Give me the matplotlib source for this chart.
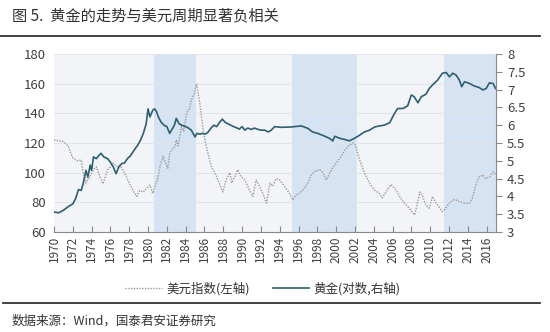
import matplotlib
matplotlib.use("Agg")
import matplotlib.pyplot as plt
from matplotlib.lines import Line2D

plt.rcParams['font.family'] = ['Noto Sans CJK SC', 'DejaVu Sans']

# US dollar index (left axis)
usd_year = [1970.0, 1970.5, 1971.0, 1971.5, 1971.8, 1972.0, 1972.5, 1972.9, 1973.1, 1973.4,
            1973.8, 1974.2, 1974.5, 1974.9, 1975.2, 1975.4, 1975.7, 1976.0, 1976.3, 1976.7,
            1977.0, 1977.4, 1977.7, 1978.0, 1978.4, 1978.8, 1979.1, 1979.5, 1979.8, 1980.2,
            1980.5, 1980.8, 1981.0, 1981.3, 1981.6, 1981.9, 1982.1, 1982.3, 1982.6, 1982.85,
            1983.0, 1983.2, 1983.55, 1983.8, 1984.1, 1984.4, 1984.6, 1984.9, 1985.15, 1985.5,
            1985.85, 1986.2, 1986.55, 1986.8, 1987.1, 1987.45, 1987.95, 1988.3, 1988.7, 1988.9,
            1989.2, 1989.55, 1989.9, 1990.2, 1990.45, 1990.8, 1991.15, 1991.5, 1991.85, 1992.2,
            1992.6, 1992.95, 1993.25, 1993.65, 1994.0, 1994.5, 1995.05, 1995.4, 1995.75, 1996.1,
            1996.45, 1997.0, 1997.35, 1997.7, 1998.25, 1998.6, 1998.95, 1999.2, 1999.5, 2000.0,
            2000.55, 2000.9, 2001.4, 2001.8, 2002.05, 2002.5, 2003.0, 2003.55, 2004.1, 2004.6,
            2004.9, 2005.3, 2005.85, 2006.4, 2006.75, 2007.25, 2007.8, 2008.15, 2008.35, 2008.65,
            2008.9, 2009.2, 2009.55, 2009.9, 2010.25, 2010.6, 2010.95, 2011.3, 2011.5, 2012.05,
            2012.6, 2013.1, 2013.65, 2014.2, 2014.5, 2014.9, 2015.2, 2015.6, 2015.9, 2016.3,
            2016.7, 2017.0]
usd_val = [122, 121.5, 121, 118, 113, 110, 108, 108.5, 100, 93,
           97, 102, 104, 97, 92.5, 96, 102, 104, 106.5, 104,
           105, 101, 97, 93, 88, 84, 88, 87, 89, 91.7,
           86, 92, 95, 105, 111, 106, 103, 113, 116, 117.5,
           122, 118, 131, 128, 140, 143, 149, 153, 160, 147,
           129, 117.5, 108.5, 103, 100, 95, 87, 95, 100, 93,
           97, 102, 97, 96, 93, 88, 84, 95, 91, 86,
           79.5, 93, 91, 96, 95, 91, 86, 81.6, 85, 86,
           88, 93, 98.5, 100.7, 102, 100, 95, 98, 102, 106.5,
           111, 115, 118.6, 120, 118.6, 108.5, 100, 93, 88, 86,
           83, 87, 92, 88, 84, 79.5, 76, 72.7, 71.5, 79.5,
           87, 84, 78, 76, 84, 79.5, 77, 73.7, 75, 79.5,
           82, 80.5, 79.5, 79.5, 83, 93, 97, 98.5, 96, 97,
           100.7, 98.5]

# gold price, natural log (right axis)
gold_year = [1970.0, 1970.5, 1971.0, 1971.5, 1972.0, 1972.3, 1972.6, 1972.9, 1973.1, 1973.4,
             1973.6, 1973.85, 1974.0, 1974.2, 1974.5, 1974.8, 1975.0, 1975.3, 1975.7, 1976.0,
             1976.3, 1976.6, 1976.9, 1977.2, 1977.5, 1977.8, 1978.1, 1978.3, 1978.6, 1978.9,
             1979.2, 1979.5, 1979.8, 1980.0, 1980.2, 1980.5, 1980.7, 1980.9, 1981.1, 1981.4,
             1981.7, 1982.0, 1982.3, 1982.5, 1982.8, 1983.0, 1983.3, 1983.6, 1984.0, 1984.3,
             1984.6, 1985.0, 1985.2, 1985.5, 1985.8, 1986.1, 1986.4, 1986.7, 1987.0, 1987.3,
             1987.6, 1987.9, 1988.2, 1988.5, 1988.8, 1989.1, 1989.4, 1989.7, 1990.0, 1990.3,
             1990.6, 1991.0, 1991.3, 1991.6, 1992.0, 1992.4, 1992.8, 1993.1, 1993.45, 1994.2,
             1995.2, 1996.3, 1997.0, 1997.5, 1998.05, 1998.8, 1999.3, 1999.65, 1999.85, 2000.4,
             2000.9, 2001.4, 2001.95, 2002.5, 2003.0, 2003.55, 2004.1, 2004.6, 2005.1, 2005.7,
             2006.2, 2006.55, 2007.1, 2007.6, 2008.0, 2008.3, 2008.7, 2009.05, 2009.55, 2009.9,
             2010.25, 2010.8, 2011.3, 2011.7, 2012.05, 2012.4, 2012.75, 2013.1, 2013.35, 2013.65,
             2014.2, 2014.7, 2015.2, 2015.6, 2015.95, 2016.3, 2016.7, 2016.95]
gold_log = [3.56, 3.54, 3.61, 3.71, 3.79, 3.94, 4.19, 4.17, 4.36, 4.73,
            4.54, 4.88, 4.73, 5.11, 5.06, 5.16, 5.21, 5.11, 5.06, 4.96,
            4.83, 4.64, 4.83, 4.92, 4.94, 5.06, 5.13, 5.21, 5.33, 5.44,
            5.58, 5.77, 6.04, 6.46, 6.23, 6.42, 6.46, 6.38, 6.23, 6.08,
            6.00, 5.96, 5.77, 5.86, 6.00, 6.19, 6.04, 6.00, 5.96, 5.92,
            5.86, 5.67, 5.77, 5.75, 5.77, 5.75, 5.81, 5.92, 6.00, 5.96,
            6.08, 6.17, 6.08, 6.04, 6.00, 5.96, 5.93, 5.89, 5.96, 5.86,
            5.92, 5.88, 5.92, 5.89, 5.86, 5.86, 5.81, 5.86, 5.96, 5.94,
            5.95, 5.98, 5.91, 5.81, 5.77, 5.69, 5.63, 5.56, 5.69, 5.63,
            5.60, 5.56, 5.63, 5.72, 5.81, 5.86, 5.95, 5.98, 6.00, 6.07,
            6.33, 6.47, 6.47, 6.54, 6.85, 6.80, 6.63, 6.80, 6.87, 7.03,
            7.13, 7.27, 7.46, 7.48, 7.36, 7.46, 7.41, 7.27, 7.08, 7.22,
            7.17, 7.10, 7.06, 6.99, 7.03, 7.19, 7.17, 7.03]

# periods of dollar strength
spans = [(1980.6, 1985.1), (1995.3, 2002.2), (2011.5, 2017.0)]
xticks = list(range(1970, 2017, 2))

fig = plt.figure(figsize=(5.5, 3.32), dpi=100)
ax = fig.add_axes([54 / 550, 1 - 232 / 332, 442 / 550, 178 / 332])
ax.set_facecolor('#f3f4f7')
for a, b in spans:
    ax.axvspan(a, b, color='#d6e3f3', lw=0, zorder=0)
ax.set_xlim(1970, 2017)
ax.set_ylim(60, 180)
ax.set_yticks(range(60, 181, 20))
ax.yaxis.grid(True, color='#e1e3e8', lw=0.7)
ax.set_axisbelow(True)
ax.set_xticks(xticks)
ax.set_xticklabels([str(y) for y in xticks], rotation=90, fontsize=8.5, color='#404040')
ax.tick_params(axis='x', direction='in', length=4, color='#888888', pad=3)
ax.tick_params(axis='y', length=0, labelsize=9.5, colors='#404040', pad=6)
for s in ['top', 'left', 'right']:
    ax.spines[s].set_visible(False)
ax.spines['bottom'].set_color('#888888')
ax.plot(usd_year, usd_val, color='#9a9a9a', lw=1.0, ls=(0, (1, 1)))

ax2 = ax.twinx()
ax2.set_ylim(3, 8)
ax2.set_yticks([3, 3.5, 4, 4.5, 5, 5.5, 6, 6.5, 7, 7.5, 8])
ax2.set_yticklabels(['3', '3.5', '4', '4.5', '5', '5.5', '6', '6.5', '7', '7.5', '8'])
ax2.tick_params(axis='y', direction='out', length=4, color='#888888', labelsize=9.5,
                labelcolor='#404040', pad=4)
for s in ['top', 'left', 'bottom']:
    ax2.spines[s].set_visible(False)
ax2.spines['right'].set_color('#888888')
ax2.plot(gold_year, gold_log, color='#2e5e72', lw=1.2)

fig.text(0.022, 1 - 16 / 332, '图 5.  黄金的走势与美元周期显著负相关', fontsize=11,
         color='#333333', va='center')
fig.add_artist(Line2D([0.0, 540 / 550], [1 - 36 / 332] * 2, color='#333333', lw=1.3))
fig.add_artist(Line2D([0.005, 540 / 550], [1 - 303 / 332] * 2, color='#333333', lw=1.3))
fig.text(12 / 550, 1 - 321 / 332, '数据来源：Wind，国泰君安证券研究', fontsize=9,
         color='#333333', va='center')

handles = [Line2D([], [], color='#9a9a9a', lw=1.0, ls=(0, (1, 1))),
           Line2D([], [], color='#2e5e72', lw=1.2)]
fig.legend(handles, ['美元指数(左轴)', '黄金(对数,右轴)'], loc='center',
           bbox_to_anchor=(263 / 550, 1 - 289 / 332), ncol=2, frameon=False,
           fontsize=9, handlelength=2.9, handletextpad=0.4, columnspacing=1.8,
           labelcolor='#333333')

fig.savefig('out.png', dpi=100)
